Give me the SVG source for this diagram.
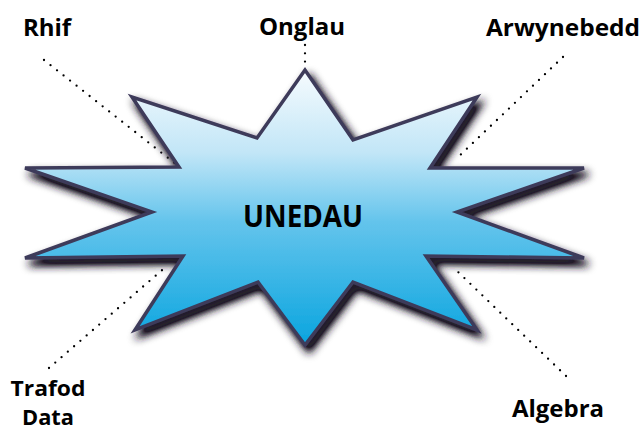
<svg xmlns="http://www.w3.org/2000/svg" width="643" height="431" viewBox="0 0 643 431">
<style>
.lbl{font-family:"Open Sans","Liberation Sans",sans-serif;font-weight:700;font-size:24px;fill:#000;text-anchor:middle}
.dot{fill:none;stroke:#000;stroke-width:2.3;stroke-linecap:round;stroke-dasharray:0 8.3}
</style>
<defs>
<linearGradient id="g" x1="0" y1="70" x2="0" y2="345" gradientUnits="userSpaceOnUse">
<stop offset="0" stop-color="#f6fbfe"/>
<stop offset="0.3" stop-color="#c2e6f7"/>
<stop offset="0.55" stop-color="#64c4ec"/>
<stop offset="1" stop-color="#0aa5df"/>
</linearGradient>
<filter id="sh" x="-10%" y="-10%" width="125%" height="130%">
<feGaussianBlur in="SourceAlpha" stdDeviation="4.5"/>
<feOffset dx="4" dy="6" result="b"/>
<feFlood flood-color="#241e2c"/>
<feComposite in2="b" operator="in"/>
<feComponentTransfer><feFuncA type="linear" slope="1.5"/></feComponentTransfer>
<feMerge><feMergeNode/><feMergeNode in="SourceGraphic"/></feMerge>
</filter>
</defs>
<rect width="643" height="431" fill="#fff"/>
<g id="connectors">
<line class="dot" x1="44" y1="60" x2="177" y2="165"/>
<line class="dot" x1="305" y1="45" x2="305" y2="68"/>
<line class="dot" x1="563" y1="57" x2="455" y2="160"/>
<line class="dot" x1="49" y1="368" x2="168" y2="265"/>
<line class="dot" x1="566" y1="376" x2="455" y2="269"/>
</g>
<g id="unedau">
<polygon points="305,70 257,138 132,97 179,167 25,168 152,212 25,258 183,256 135,330 258,282 305,345 353,282 477,330 426,256 584,258 457,212 584,168 430,168 477,97 353,140" fill="url(#g)" stroke="#3e3a5a" stroke-width="3.5" stroke-linejoin="miter" filter="url(#sh)"/>
<text class="lbl" x="303" y="227" style="font-size:30px" textLength="120" lengthAdjust="spacingAndGlyphs">UNEDAU</text>
</g>
<g id="rhif"><text class="lbl" x="47" y="36">Rhif</text></g>
<g id="onglau"><text class="lbl" x="302" y="35">Onglau</text></g>
<g id="arwynebedd"><text class="lbl" x="563" y="36" textLength="154" lengthAdjust="spacingAndGlyphs">Arwynebedd</text></g>
<g id="trafod"><text class="lbl" x="48" y="396" style="font-size:21px" textLength="75" lengthAdjust="spacingAndGlyphs">Trafod</text><text class="lbl" x="48" y="425" style="font-size:21px" textLength="52" lengthAdjust="spacingAndGlyphs">Data</text></g>
<g id="algebra"><text class="lbl" x="558" y="417">Algebra</text></g>
</svg>
